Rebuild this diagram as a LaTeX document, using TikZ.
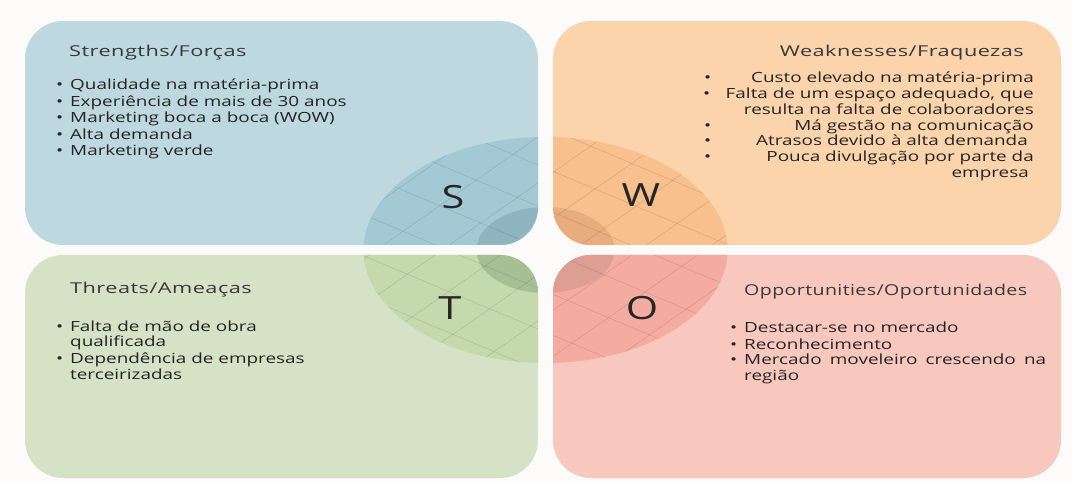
\documentclass[tikz,border=0pt]{standalone}
\usepackage{fontspec}
\setmainfont{Open Sans}[FakeStretch=1.35]
\newfontfamily\titlefont{Open Sans}[FakeStretch=1.45,LetterSpace=3]
\newfontfamily\letterfont{Open Sans}[FakeStretch=1.3]
\definecolor{bgc}{HTML}{FDFBF9}
\definecolor{sbox}{HTML}{BDD8DE}
\definecolor{sell}{HTML}{A3CAD4}
\definecolor{ssm}{HTML}{8FB5C0}
\definecolor{wbox}{HTML}{FBD4AC}
\definecolor{well}{HTML}{F8C08C}
\definecolor{wsm}{HTML}{E8AC7D}
\definecolor{tbox}{HTML}{D6E2C5}
\definecolor{tell}{HTML}{C4DAAC}
\definecolor{tsm}{HTML}{A8BE94}
\definecolor{obox}{HTML}{F8C8BE}
\definecolor{oell}{HTML}{F4ACA0}
\definecolor{osm}{HTML}{DE9E94}
\definecolor{titletext}{HTML}{383838}
\definecolor{bodytext}{HTML}{242424}
\begin{document}
\begin{tikzpicture}[x=1pt,y=-1pt,
  quad/.style={rounded corners=38pt},
  body/.style={anchor=base west, inner sep=0pt, text=bodytext, font=\fontsize{14}{16}\selectfont},
  bodyr/.style={body, anchor=base east},
  bul/.style={anchor=base west, inner sep=0pt, text=bodytext, font=\fontsize{14}{16}\selectfont},
  ttl/.style={anchor=base west, inner sep=0pt, text=titletext, font=\titlefont\fontsize{15}{18}\selectfont},
  ttlr/.style={ttl, anchor=base east},
  bigletter/.style={inner sep=0pt, text=black!85, font=\letterfont\fontsize{32}{34}\selectfont},
  gridline/.style={draw=black, draw opacity=0.13, line width=0.5pt}]
\useasboundingbox (0,0) rectangle (1072,481);
\fill[bgc] (0,0) rectangle (1072,481);
% quadrants
\fill[sbox, quad] (25,21) rectangle (538,245);
\fill[wbox, quad] (553,21) rectangle (1061,245);
\fill[tbox, quad] (25,255) rectangle (538,478);
\fill[obox, quad] (553,255) rectangle (1061,478);
\begin{scope}
  \clip[quad] (25,21) rectangle (538,245);
  \fill[sell] (545.5,250) ellipse [x radius=182pt, y radius=113pt];
  \fill[ssm] (545.5,250) ellipse [x radius=69pt, y radius=43pt];
\end{scope}
\begin{scope}
  \clip[quad] (553,21) rectangle (1061,245);
  \fill[well] (545.5,250) ellipse [x radius=182pt, y radius=113pt];
  \fill[wsm] (545.5,250) ellipse [x radius=69pt, y radius=43pt];
\end{scope}
\begin{scope}
  \clip[quad] (25,255) rectangle (538,478);
  \fill[tell] (545.5,250) ellipse [x radius=182pt, y radius=113pt];
  \fill[tsm] (545.5,250) ellipse [x radius=69pt, y radius=43pt];
\end{scope}
\begin{scope}
  \clip[quad] (553,255) rectangle (1061,478);
  \fill[oell] (545.5,250) ellipse [x radius=182pt, y radius=113pt];
  \fill[osm] (545.5,250) ellipse [x radius=69pt, y radius=43pt];
\end{scope}
% grid lines inside the big ellipse
\begin{scope}
  \clip[quad] (25,21) rectangle (538,245) (553,21) rectangle (1061,245)
              (25,255) rectangle (538,478) (553,255) rectangle (1061,478);
  \clip (545.5,250) ellipse [x radius=182pt, y radius=113pt];
  \foreach \k in {-7,...,7} {
    \draw[gridline] (325,{250-0.42*220+\k*41}) -- (765,{250+0.42*220+\k*41});
    \draw[gridline] (325,{250+0.7*220+\k*46+20}) -- (765,{250-0.7*220+\k*46+20});
  }
\end{scope}
% big letters
\node[bigletter] (lS) at (453,197) {S};
\node[bigletter] (lW) at (641,195) {W};
\node[bigletter] (lT) at (450,308) {T};
\node[bigletter] (lO) at (642,308) {O};
% Strengths
\node[ttl] (st) at (69,57) {Strengths/Forças};
\foreach \y/\t [count=\i] in {90/Qualidade na matéria-prima,106.5/Experiência de mais de 30 anos,123/Marketing boca a boca (WOW),139.5/Alta demanda,156/Marketing verde} {
  \node[bul] (sb\i) at (56,\y) {•};
  \node[body] (si\i) at (70,\y) {\t};
}
% Weaknesses
\node[ttlr] (wt) at (1024,57) {Weaknesses/Fraquezas};
\node[bul] (wb1) at (704,83) {•};
\node[bodyr] (wi1) at (1034,83) {Custo elevado na matéria-prima};
\node[bul] (wb2) at (703,99) {•};
\node[bodyr] (wi2) at (1034,99) {Falta de um espaço adequado, que};
\node[bodyr] (wi2b) at (1034,115) {resulta na falta de colaboradores};
\node[bul] (wb3) at (704,131) {•};
\node[bodyr] (wi3) at (1034,131) {Má gestão na comunicação};
\node[bul] (wb4) at (704,146) {•};
\node[bodyr] (wi4) at (1028,146) {Atrasos devido à alta demanda};
\node[bul] (wb5) at (704,162) {•};
\node[bodyr] (wi5) at (1034,162) {Pouca divulgação por parte da};
\node[bodyr] (wi5b) at (1029,178) {empresa};
% Threats
\node[ttl] (tt) at (70,294) {Threats/Ameaças};
\node[bul] (tb1) at (56,331) {•};
\node[body] (ti1) at (70,331) {Falta de mão de obra};
\node[body] (ti1b) at (70,347) {qualificada};
\node[bul] (tb2) at (56,363) {•};
\node[body] (ti2) at (70,363) {Dependência de empresas};
\node[body] (ti2b) at (70,379) {terceirizadas};
% Opportunities
\node[ttl] (ot) at (744,296) {\scalebox{0.9}[1]{Opportunities/Oportunidades}};
\node[bul] (ob1) at (730,333) {•};
\node[body] (oi1) at (744,333) {Destacar-se no mercado};
\node[bul] (ob2) at (730,349) {•};
\node[body] (oi2) at (744,349) {Reconhecimento};
\node[bul] (ob3) at (730,365) {•};
\node[body] (oi3) at (744,365) {\makebox[302pt][s]{Mercado moveleiro crescendo na}};
\node[body] (oi3b) at (744,381) {região};
\end{tikzpicture}
\end{document}
